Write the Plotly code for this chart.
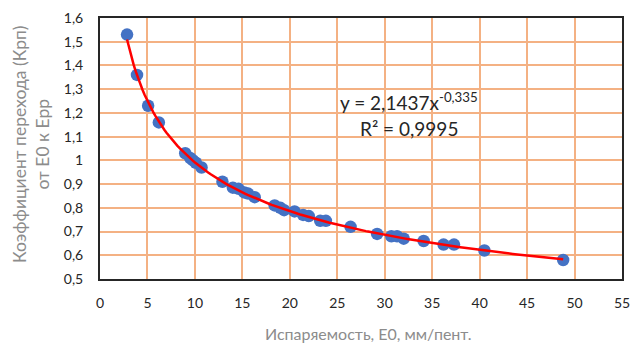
import numpy as np
import plotly.graph_objects as go

# Data
evap = [2.85, 3.9, 5.07, 6.2, 8.98, 9.5, 9.8, 10.1, 10.7, 12.9, 14.0, 14.6, 15.2, 15.6,
        16.3, 18.4, 19.0, 19.4, 20.5, 21.4, 22.0, 23.2, 23.8, 26.4, 29.2, 30.7, 31.3,
        32.0, 34.1, 36.2, 37.3, 40.5, 48.8]
coef = [1.53, 1.36, 1.23, 1.16, 1.03, 1.01, 1.0, 0.99, 0.97, 0.91, 0.885, 0.88, 0.865, 0.86,
        0.845, 0.81, 0.80, 0.79, 0.785, 0.77, 0.765, 0.745, 0.745, 0.72, 0.69, 0.68, 0.68,
        0.67, 0.66, 0.645, 0.645, 0.62, 0.58]

# Power trendline shown on the chart
trend_a = 2.1437
trend_b = -0.335

x_ticks = list(range(0, 60, 5))

tx = np.linspace(min(evap), max(evap), 200)
ty = trend_a * tx ** trend_b

font = "Lato, 'Open Sans', sans-serif"
grid = "#F4B183"
title_col = "#8C8C8C"
txt_col = "#262626"

fig = go.Figure()
fig.add_trace(go.Scatter(x=evap, y=coef, mode="markers",
                         marker=dict(color="#4472C4", size=12.5), showlegend=False))
fig.add_trace(go.Scatter(x=tx, y=ty, mode="lines",
                         line=dict(color="#FF0000", width=2.5), showlegend=False))

W, H = 631, 344
L, R, T, B = 100, 9, 18, 65
pw = W - L - R
ph = H - T - B

fig.update_layout(
    width=W, height=H,
    margin=dict(l=L, r=R, t=T, b=B),
    paper_bgcolor="white", plot_bgcolor="white",
    separators=", ",
    font=dict(family=font, size=14, color=txt_col),
    annotations=[
        dict(x=32.6, y=1.246, xref="x", yref="y",
             text="y = 2,1437x<sup>-0,335</sup>",
             showarrow=False, xanchor="center", yanchor="middle",
             font=dict(family=font, size=19, color=txt_col)),
        dict(x=32.6, y=1.135, xref="x", yref="y",
             text="R² = 0,9995",
             showarrow=False, xanchor="center", yanchor="middle",
             font=dict(family=font, size=19, color=txt_col)),
        dict(x=(368 - L) / pw, y=(H - B - 333) / ph, xref="paper", yref="paper",
             text="Испаряемость, E0, мм/пент.",
             showarrow=False, xanchor="center", yanchor="middle",
             font=dict(family=font, size=16, color=title_col)),
        dict(x=(31 - L) / pw, y=(H - B - 145) / ph, xref="paper", yref="paper",
             text="Коэффициент перехода (Крп)<br>от Е0 к Ерр", textangle=-90,
             showarrow=False, xanchor="center", yanchor="middle", align="center",
             font=dict(family=font, size=17.5, color=title_col)),
    ],
)
fig.update_xaxes(range=[0, 55], tickvals=x_ticks, showgrid=True, gridcolor=grid, gridwidth=1.5,
                 showline=True, linecolor=txt_col, linewidth=2, mirror=True,
                 zeroline=False, ticks="", tickfont=dict(size=14), automargin=False,
                 ticklabelstandoff=10, ticklabeloverflow="allow")
fig.update_yaxes(range=[0.5, 1.6], dtick=0.1, tick0=0.5, showgrid=True, gridcolor=grid, gridwidth=1.5,
                 showline=True, linecolor=txt_col, linewidth=2, mirror=True,
                 zeroline=False, ticks="", tickfont=dict(size=14), automargin=False,
                 ticklabelstandoff=12, ticklabeloverflow="allow")

fig.write_html("out.html", config={"displayModeBar": False},
               post_script="document.body.style.margin='0';document.body.style.overflow='hidden';")
